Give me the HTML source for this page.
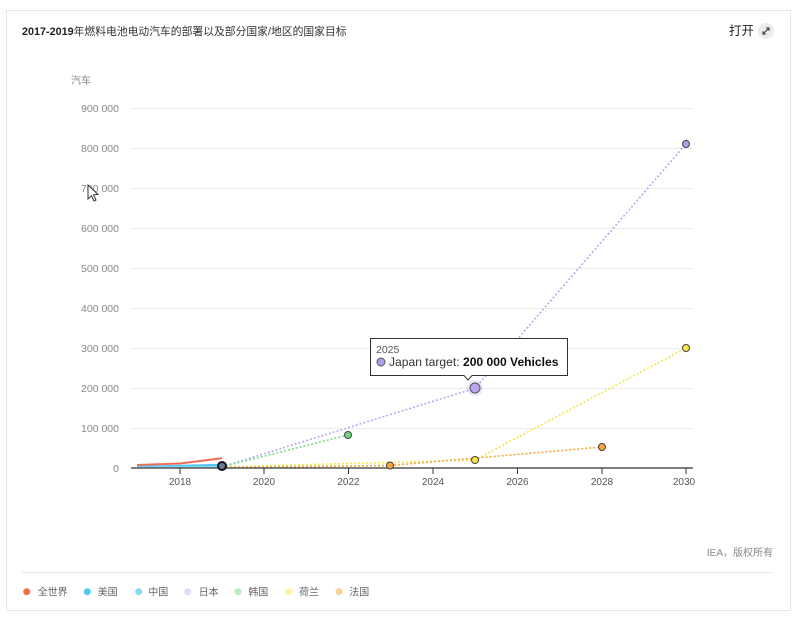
<!DOCTYPE html>
<html><head><meta charset="utf-8"><style>
html,body{margin:0;padding:0;background:#fff;}
body{width:800px;height:623px;overflow:hidden;position:relative;font-family:"Liberation Sans","Noto Sans CJK SC",sans-serif;}
svg{position:absolute;left:0;top:0;}
</style></head><body>
<svg width="800" height="623" viewBox="0 0 800 623" xmlns="http://www.w3.org/2000/svg" font-family="Liberation Sans, Noto Sans CJK SC, sans-serif">
<rect x="6.5" y="10.5" width="784" height="600" fill="#fff" stroke="#e6e6e6" stroke-width="1"/>
<text x="22" y="35" font-size="10.8" fill="#333"><tspan font-weight="bold" fill="#222">2017-2019</tspan>年燃料电池电动汽车的部署以及部分国家/地区的国家目标</text>
<text x="729" y="35" font-size="12.5" fill="#222">打开</text>
<circle cx="766" cy="31" r="8" fill="#ebebeb"/>
<path d="M763 34 L769 28 M766.3 28 H769 V30.7 M763 31.3 V34 H765.7" stroke="#444" stroke-width="1.2" fill="none"/>
<text x="71" y="84" font-size="10" fill="#888">汽车</text>
<g stroke="#ebebeb" stroke-width="1">
<line x1="131" x2="693" y1="108.5" y2="108.5"/>
<line x1="131" x2="693" y1="148.5" y2="148.5"/>
<line x1="131" x2="693" y1="188.5" y2="188.5"/>
<line x1="131" x2="693" y1="228.5" y2="228.5"/>
<line x1="131" x2="693" y1="268.5" y2="268.5"/>
<line x1="131" x2="693" y1="308.5" y2="308.5"/>
<line x1="131" x2="693" y1="348.5" y2="348.5"/>
<line x1="131" x2="693" y1="388.5" y2="388.5"/>
<line x1="131" x2="693" y1="428.5" y2="428.5"/>
</g>
<g font-size="10.5" fill="#888" text-anchor="end">
<text x="119" y="112">900 000</text>
<text x="119" y="152">800 000</text>
<text x="119" y="192">700 000</text>
<text x="119" y="232">600 000</text>
<text x="119" y="272">500 000</text>
<text x="119" y="312">400 000</text>
<text x="119" y="352">300 000</text>
<text x="119" y="392">200 000</text>
<text x="119" y="432">100 000</text>
<text x="119" y="472">0</text>
</g>
<g fill="none" stroke-width="1.6" stroke-dasharray="2,2">
<polyline points="222,466.8 475,388.3 686,144" stroke="#b9a8ee"/>
<polyline points="222,466.8 348,435" stroke="#7ddc86"/>
<polyline points="222,467 475,460 686,348" stroke="#f7e64a"/>
<polyline points="222,467.5 390,465.5 602,447" stroke="#f5a83c"/>
</g>
<polyline points="137,465 180,463.5 222,458.3" fill="none" stroke="#f26b4f" stroke-width="2"/>
<polyline points="137,467 180,466 222,465" fill="none" stroke="#50c8f7" stroke-width="2.5"/>
<polyline points="137,467.6 180,467.3 222,467" fill="none" stroke="#8ad9f2" stroke-width="2"/>
<line x1="131" x2="693" y1="468" y2="468" stroke="#555" stroke-width="1.5"/>
<g stroke="#333" stroke-width="1">
<line x1="180" x2="180" y1="468" y2="474"/>
<line x1="264" x2="264" y1="468" y2="474"/>
<line x1="348.5" x2="348.5" y1="468" y2="474"/>
<line x1="433" x2="433" y1="468" y2="474"/>
<line x1="517.5" x2="517.5" y1="468" y2="474"/>
<line x1="602" x2="602" y1="468" y2="474"/>
<line x1="686" x2="686" y1="468" y2="474"/>
</g>
<g font-size="10" fill="#555" text-anchor="middle">
<text x="180" y="485">2018</text>
<text x="264" y="485">2020</text>
<text x="348.5" y="485">2022</text>
<text x="433" y="485">2024</text>
<text x="517.5" y="485">2026</text>
<text x="602" y="485">2028</text>
<text x="684" y="485">2030</text>
</g>
<g stroke="#444" stroke-width="1">
<circle cx="686" cy="144" r="3.5" fill="#b19ce8"/>
<circle cx="686" cy="348" r="3.5" fill="#f7e64a"/>
<circle cx="348" cy="435" r="3.5" fill="#6fd87a"/>
<circle cx="475" cy="460" r="3.5" fill="#f7e64a"/>
<circle cx="390" cy="465.5" r="3.5" fill="#f5a53a"/>
<circle cx="602" cy="447" r="3.5" fill="#f5a53a"/>
</g>
<circle cx="222" cy="466" r="4" fill="#6a7a9a" stroke="#111" stroke-width="2"/>
<circle cx="475" cy="388" r="8" fill="#b19ce8" opacity="0.25"/>
<circle cx="475" cy="388" r="5" fill="#b9a6ec" stroke="#555" stroke-width="1"/>
<path d="M370.5 338.5 H567.5 V375.5 H472 L468 380 L464 375.5 H370.5 Z" fill="#fff" stroke="#333" stroke-width="1"/>
<text x="376" y="353" font-size="10.5" fill="#555">2025</text>
<circle cx="381" cy="362" r="4" fill="#b19ce8" stroke="#555" stroke-width="1"/>
<text x="389" y="366" font-size="12.1" fill="#333">Japan target: <tspan font-weight="bold" fill="#111">200 000 Vehicles</tspan></text>
<path d="M88 185 L88 199 L91.5 195.8 L94 201 L96 200 L93.6 194.8 L98 194.5 Z" fill="#fff" stroke="#333" stroke-width="1"/>
<text x="773" y="556" font-size="10" fill="#888" text-anchor="end">IEA，版权所有</text>
<line x1="22" x2="773" y1="572.5" y2="572.5" stroke="#e6e6e6" stroke-width="1"/>
<g font-size="10" fill="#666">
<circle cx="26.7" cy="591.7" r="3.5" fill="#f26b4f"/><text x="37.7" y="595.5">全世界</text>
<circle cx="87.3" cy="591.7" r="3.5" fill="#50c8f7"/><text x="97.7" y="595.5">美国</text>
<circle cx="138.7" cy="591.7" r="3.5" fill="#8ad9f2"/><text x="148.3" y="595.5">中国</text>
<circle cx="187.7" cy="591.7" r="3.5" fill="#e0dcf8"/><text x="198.7" y="595.5">日本</text>
<circle cx="238" cy="591.7" r="3.5" fill="#b5ecc0"/><text x="248.3" y="595.5">韩国</text>
<circle cx="288.7" cy="591.7" r="3.5" fill="#fbf3a0"/><text x="299" y="595.5">荷兰</text>
<circle cx="339" cy="591.7" r="3.5" fill="#f9cf93"/><text x="349.3" y="595.5">法国</text>
</g>
</svg>
</body></html>
